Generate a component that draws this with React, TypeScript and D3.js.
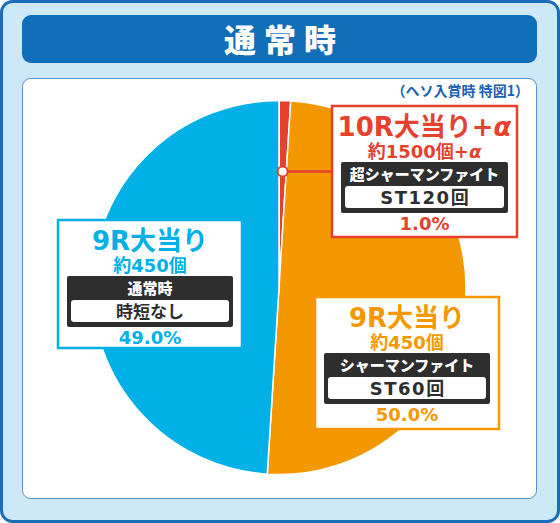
import React from "react";
import * as d3 from "d3";

const sliceNames = ["10R大当り+α", "9R大当り(ST)", "9R大当り(通常)"];
const sliceValues = [1.0, 50.0, 49.0];
const sliceColors = ["#e6412f", "#f39800", "#00b0e6"];

const titleText = "通常時";
const noteText = "（ヘソ入賞時 特図1）";

const labelTitles = ["10R大当り+", "9R大当り", "9R大当り"];
const labelCounts = ["約1500個+", "約450個", "約450個"];
const labelAlpha = [true, false, false];
const labelModes = ["超シャーマンファイト", "シャーマンファイト", "通常時"];
const labelSubs = ["ST120回", "ST60回", "時短なし"];
const labelPcts = ["1.0%", "50.0%", "49.0%"];

const W = 560;
const H = 523;
const FONT = "'Noto Sans CJK JP', 'Noto Sans', sans-serif";
const MIX = "'DejaVu Sans', 'Noto Sans CJK JP', sans-serif";

type Box = { x: number; y: number; w: number; h: number };
const boxes: Box[] = [
  { x: 332, y: 106, w: 185, h: 131 },
  { x: 315, y: 297, w: 184, h: 132 },
  { x: 58, y: 220, w: 184, h: 128 },
];

function LabelBox({ i, b, color }: { i: number; b: Box; color: string }) {
  const cx = b.x + b.w / 2;
  const ls = i === 2 ? 0 : 1.5;
  return (
    <g>
      <rect x={b.x} y={b.y} width={b.w} height={b.h} fill="#fff" stroke={color} strokeWidth={2.5} />
      <text x={cx} y={b.y + 30} textAnchor="middle" fontFamily={MIX} fontWeight={700} fontSize={26} fill={color}>
        {labelTitles[i]}
        {labelAlpha[i] && <tspan fontStyle="italic">α</tspan>}
      </text>
      <text x={cx} y={b.y + 52} textAnchor="middle" fontFamily={MIX} fontWeight={700} fontSize={18} fill={color}>
        {labelCounts[i]}
        {labelAlpha[i] && <tspan fontStyle="italic">α</tspan>}
      </text>
      <rect x={b.x + 9} y={b.y + 56} width={b.w - 18} height={51} rx={2} fill="#2e2e2e" />
      <text x={cx} y={b.y + 74} textAnchor="middle" fontFamily={FONT} fontWeight={900} fontSize={15} fill="#fff">
        {labelModes[i]}
      </text>
      <rect x={b.x + 13} y={b.y + 80} width={b.w - 26} height={22} rx={3} fill="#fff" />
      <text
        x={cx + ls / 2}
        y={b.y + 98}
        textAnchor="middle"
        fontFamily={MIX}
        fontWeight={700}
        fontSize={i === 2 ? 17 : 18}
        letterSpacing={ls}
        fill="#2e2e2e"
      >
        {labelSubs[i]}
      </text>
      <text x={cx} y={b.y + 124} textAnchor="middle" fontFamily={MIX} fontWeight={700} fontSize={18} fill={color}>
        {labelPcts[i]}
      </text>
    </g>
  );
}

export default function App() {
  const cx = 279;
  const cy = 287.5;
  const r = 187;
  const pie = d3
    .pie<number>()
    .sort(null)
    .value((d) => d)
    .startAngle(0)
    .endAngle(2 * Math.PI);
  const arcs = pie(sliceValues);
  const arc = d3.arc<d3.PieArcDatum<number>>().innerRadius(0).outerRadius(r);

  const redMid = (arcs[0].startAngle + arcs[0].endAngle) / 2;
  const dotR = 116;
  const dotX = cx + dotR * Math.sin(redMid);
  const dotY = cy - dotR * Math.cos(redMid);

  return (
    <svg width={W} height={H} style={{ position: "absolute", left: 0, top: 0 }}>
      <rect x={1.5} y={1.5} width={W - 3} height={H - 3} rx={11} fill="#cde9f8" stroke="#1b6db7" strokeWidth={3} />
      <rect x={22} y={15} width={515} height={48} rx={9} fill="#106fb8" />
      <text x={W / 2 + 4} y={52} textAnchor="middle" fontFamily={FONT} fontWeight={900} fontSize={32} letterSpacing={8} fill="#fff">
        {titleText}
      </text>
      <rect x={22.5} y={78.5} width={514} height={420} rx={8} fill="#fff" stroke="#5a8ccf" strokeWidth={1} />
      <text x={529} y={96} textAnchor="end" fontFamily={FONT} fontWeight={700} fontSize={14} fill="#1a62ad">
        {noteText}
      </text>
      <g transform={`translate(${cx},${cy})`}>
        {arcs.map((a, i) => (
          <path key={sliceNames[i]} d={arc(a) || ""} fill={sliceColors[i]} stroke="#fff" strokeWidth={1.5} />
        ))}
      </g>
      <line x1={dotX} y1={dotY} x2={boxes[0].x} y2={dotY} stroke={sliceColors[0]} strokeWidth={2.5} />
      <circle cx={dotX} cy={dotY} r={5} fill="#fff" stroke={sliceColors[0]} strokeWidth={2} />
      {boxes.map((b, i) => (
        <LabelBox key={i} i={i} b={b} color={sliceColors[i]} />
      ))}
    </svg>
  );
}
